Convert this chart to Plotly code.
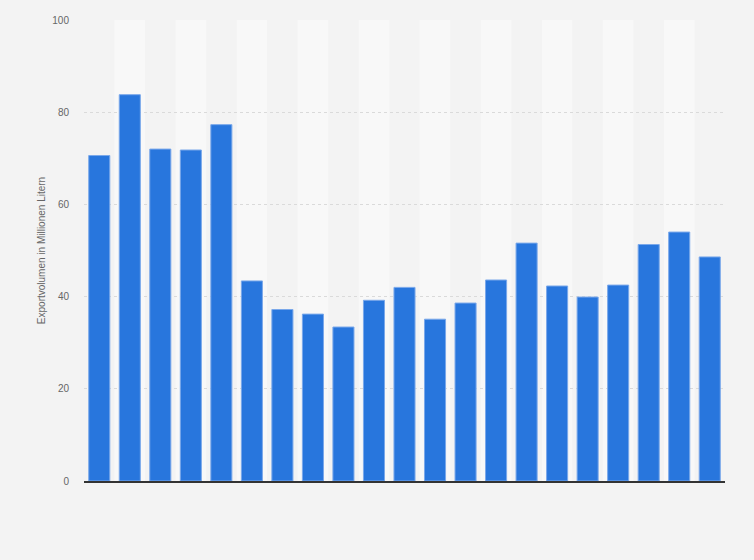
import plotly.graph_objects as go

categories = [str(y) for y in range(2002, 2023)]
values = [70.6, 83.8, 72.0, 71.8, 77.3, 43.4, 37.2, 36.2, 33.4, 39.2, 42.0,
          35.1, 38.6, 43.6, 51.6, 42.3, 39.9, 42.5, 51.3, 54.0, 48.6]
y_ticks = [0, 20, 40, 60, 80, 100]
y_title = "Exportvolumen in Millionen Litern"

fig = go.Figure()
fig.add_trace(go.Bar(
    x=categories, y=values,
    marker=dict(color="#2876dd", line=dict(color="#7aa8ea", width=1)),
    hoverinfo="x+y",
))

shapes = []
for i in range(len(categories)):
    if i % 2 == 1:
        shapes.append(dict(type="rect", xref="x", yref="y", x0=i - 0.5, x1=i + 0.5,
                           y0=0, y1=100, fillcolor="#f8f8f8", line=dict(width=0),
                           layer="below"))

fig.update_layout(
    width=754, height=560,
    margin=dict(l=84, r=29, t=20, b=79),
    paper_bgcolor="#f3f3f3", plot_bgcolor="#f3f3f3",
    bargap=0.31,
    showlegend=False,
    shapes=shapes,
    font=dict(family="Arial, Liberation Sans, sans-serif", color="#666666"),
    xaxis=dict(type="category", showticklabels=False, showgrid=False, ticks="",
               showline=True, linecolor="#333333", linewidth=1.5,
               range=[-0.5, len(categories) - 0.5], zeroline=False),
    yaxis=dict(range=[0, 100], tickvals=y_ticks, showgrid=True, gridcolor="#dadada",
               griddash="dot", gridwidth=1, zeroline=False, ticks="", ticklabelstandoff=14,
               tickfont=dict(size=10, color="#666666"),
               title=dict(text=y_title, font=dict(size=10, color="#666666"), standoff=4)),
)

fig.write_html("out.html", config={"displayModeBar": False},
               post_script="document.body.style.margin='0';document.body.style.background='#f3f3f3';")
